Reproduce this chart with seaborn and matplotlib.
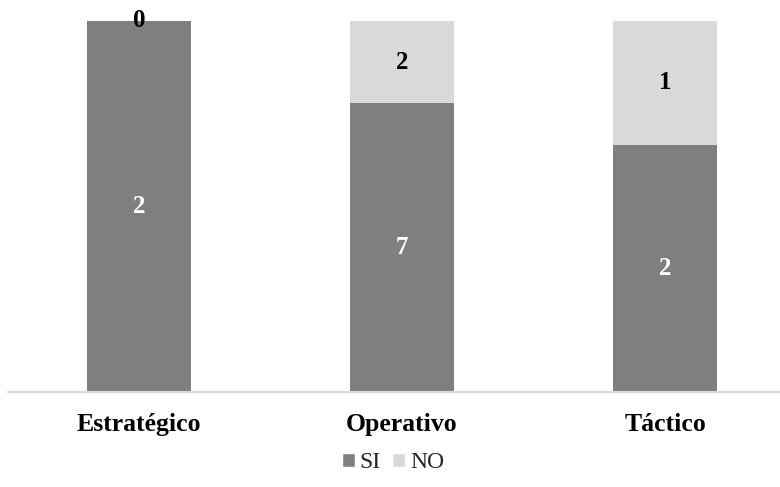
import matplotlib
matplotlib.use("Agg")
import matplotlib.pyplot as plt
import seaborn as sns
import pandas as pd
from matplotlib.patches import Patch

categories = ["Estratégico", "Operativo", "Táctico"]
si_counts = [2, 7, 2]
no_counts = [0, 2, 1]

sns.set_theme(style="white")
plt.rcParams["font.family"] = ["Liberation Serif", "DejaVu Serif"]

totals = [s + n for s, n in zip(si_counts, no_counts)]
df = pd.DataFrame({
    "cat": categories,
    "si_pct": [s / t * 100 for s, t in zip(si_counts, totals)],
    "tot_pct": [100.0] * len(categories),
})

SI_COLOR = "#7f7f7f"
NO_COLOR = "#d9d9d9"

fig = plt.figure(figsize=(7.8, 4.87), dpi=100)
ax = fig.add_axes([8 / 780, 95 / 487, 1 - 8 / 780, (392 - 21) / 487])

# stacked 100% bars: full column in NO colour, SI part drawn over it
sns.barplot(data=df, x="cat", y="tot_pct", color=NO_COLOR, width=0.395,
            saturation=1, ax=ax, linewidth=0)
sns.barplot(data=df, x="cat", y="si_pct", color=SI_COLOR, width=0.395,
            saturation=1, ax=ax, linewidth=0)

ax.set_xlim(-0.498, 2.437)
ax.set_ylim(0, 100)
ax.set_xlabel("")
ax.set_ylabel("")
ax.set_yticks([])
for side in ["top", "right", "left"]:
    ax.spines[side].set_visible(False)
ax.spines["bottom"].set_color("#d9d9d9")
ax.spines["bottom"].set_linewidth(1.5)
ax.tick_params(axis="x", length=0, pad=15)
for lbl in ax.get_xticklabels():
    lbl.set_fontsize(18.5)
    lbl.set_fontweight("bold")
    lbl.set_color("black")

# value labels
for i, (s, n) in enumerate(zip(si_counts, no_counts)):
    sp = df["si_pct"][i]
    ax.text(i, sp / 2, str(s), ha="center", va="center", color="white",
            fontsize=18, fontweight="bold")
    if n > 0:
        ax.text(i, sp + (100 - sp) / 2, str(n), ha="center", va="center",
                color="black", fontsize=18, fontweight="bold")
    else:
        ax.text(i, 100, str(n), ha="center", va="center", color="black",
                fontsize=18, fontweight="bold")

handles = [Patch(facecolor=SI_COLOR, label="SI"),
           Patch(facecolor=NO_COLOR, label="NO")]
fig.legend(handles=handles, loc="center", bbox_to_anchor=(393 / 780, 1 - 463 / 487),
           ncol=2, frameon=False, fontsize=17, handlelength=0.55, handleheight=0.55,
           handletextpad=0.2, columnspacing=0.5)

fig.savefig("out.png", dpi=100)
